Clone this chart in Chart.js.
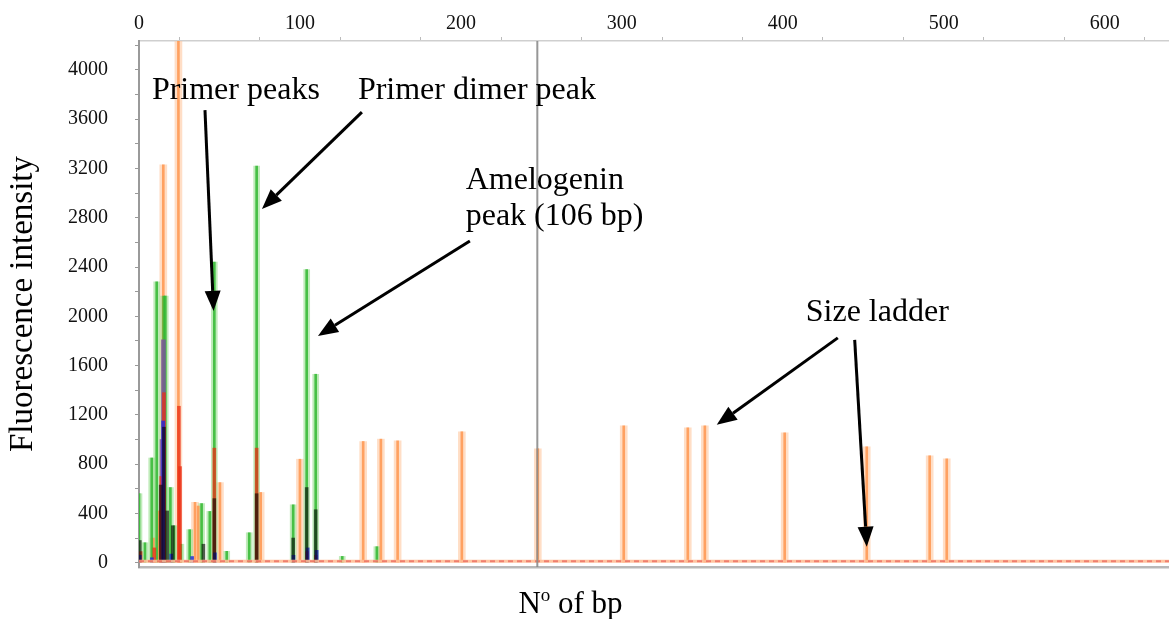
<!DOCTYPE html>
<html>
<head>
<meta charset="utf-8">
<script src="https://cdn.jsdelivr.net/npm/chart.js@4/dist/chart.umd.min.js"></script>
<style>
  html, body { margin: 0; padding: 0; background: #fff; }
  #wrap { width: 1169px; height: 619px; }
</style>
</head>
<body>
<div id="wrap"><canvas id="c" width="1169" height="619"></canvas></div>
<script>
// Axis ranges, minor tick steps and labelled ticks
const sizeRange = [0, 640];            // fragment size, bp
const intensityRange = [-35, 4235];    // fluorescence, RFU
const sizeMinorStep = 50;
const intensityMinorStep = 200;
const sizeLabels = [0, 100, 200, 300, 400, 500, 600];
const intensityLabels = [0, 400, 800, 1200, 1600, 2000, 2400, 2800, 3200, 3600, 4000];

// Size standard dye (orange)
const orangeBp  = [9, 12.5, 15.1, 24.5, 34.8, 36.8, 50.3, 75.6, 100, 139.3, 150.3, 160.7, 200.6, 247.8, 301.2, 341, 351.6, 401.2, 452.2, 491.3, 501.9];
const orangeRfu = [200, 420, 3230, 4400, 490, 460, 650, 570, 840, 984, 1003, 989, 1063, 925, 1111, 1095, 1111, 1054, 941, 868, 843];

// Green dye: primers, primer dimer and amelogenin
const greenBp  = [0, 3.7, 7.9, 11, 15.3, 16.3, 19.5, 21.7, 26, 31.5, 38.9, 44, 46.8, 54.5, 68.5, 73.1, 95.8, 104.2, 109.8, 126.3, 147.8];
const greenRfu = [560, 162, 850, 2280, 2165, 2165, 610, 300, 150, 268, 480, 416, 2440, 92, 243, 3220, 470, 2380, 1530, 51, 130];

// Remaining dye channels
const redBp  = [1, 9.5, 13.8, 15.5, 24.8, 25.5, 46.8, 73.1, 104.5, 110];
const redRfu = [90, 120, 700, 1380, 1270, 780, 930, 930, 90, 60];
const purpleBp  = [14.3, 15.2];
const purpleRfu = [1000, 1810];
const blackBp  = [0.5, 13.5, 15.5, 17.5, 21, 40, 46.8, 73.1, 95.8, 104.2, 109.8];
const blackRfu = [180, 630, 1100, 420, 300, 150, 520, 560, 200, 610, 430];
const blueBp  = [0.5, 8, 15, 20, 33, 47.2, 96, 104.8, 110.4];
const blueRfu = [60, 40, 1150, 70, 50, 80, 60, 120, 100];

// Noise floor and run cursor
const baselineRfu = 12;
const cursorBp = 247.5;

// Callouts, placed in data coordinates (bp, RFU)
const noteTexts = ['Primer peaks', 'Primer dimer peak', 'Amelogenin', 'peak (106 bp)', 'Size ladder'];
const noteBp    = [8, 136, 203, 203, 414.3];
const noteRfu   = [3830, 3830, 3098, 2806, 2028];
const arrowFrom = [[41, 3674], [138.5, 3658], [205.6, 2611], [434.2, 1825], [444.7, 1809]];
const arrowTo   = [[46.3, 2044], [76.4, 2871], [111.2, 1841], [359, 1119], [452.2, 130]];

const SERIF = "'Liberation Serif', 'Times New Roman', serif";

const pts = (xs, ys) => xs.map((x, i) => ({ x, y: ys[i] }));

// Regular tick values from 0 up to the axis maximum
function evenTicks(step, max) {
  const out = [];
  for (let v = 0; v <= max; v += step) out.push({ value: v });
  return out;
}

function peaks(xs, ys, color, width, order) {
  return {
    type: 'bar',
    data: pts(xs, ys),
    backgroundColor: color,
    borderWidth: 0,
    barThickness: width,
    grouped: false,
    order
  };
}

const datasets = [
  peaks(orangeBp, orangeRfu, 'rgba(255,200,160,0.6)', 7, 20),
  peaks(greenBp, greenRfu, 'rgba(150,222,140,0.6)', 6, 19),
  peaks(orangeBp, orangeRfu, 'rgba(255,150,80,0.85)', 2, 18),
  peaks(greenBp, greenRfu, 'rgba(50,185,50,0.85)', 2, 17),
  peaks(purpleBp, purpleRfu, 'rgba(125,80,160,0.8)', 4, 16),
  peaks(redBp, redRfu, 'rgba(235,45,20,0.75)', 3, 15),
  peaks(blueBp, blueRfu, 'rgba(30,40,220,0.8)', 3, 14),
  peaks(blackBp, blackRfu, 'rgba(0,0,0,0.6)', 3, 13),
  {
    type: 'line',
    data: [{ x: sizeRange[0], y: baselineRfu }, { x: sizeRange[1], y: baselineRfu }],
    borderColor: 'rgba(255,190,150,0.9)', borderWidth: 3, pointRadius: 0, order: 12
  },
  {
    type: 'line',
    data: [{ x: sizeRange[0], y: baselineRfu }, { x: sizeRange[1], y: baselineRfu }],
    borderColor: 'rgba(225,70,70,0.55)', borderWidth: 2, borderDash: [5, 4], pointRadius: 0, order: 11
  },
  {
    type: 'line',
    data: [{ x: cursorBp, y: intensityRange[0] }, { x: cursorBp, y: intensityRange[1] }],
    borderColor: 'rgba(140,140,140,0.9)', borderWidth: 2, pointRadius: 0, order: 10
  }
];

// Callout text and arrows
const calloutPlugin = {
  id: 'callouts',
  afterDatasetsDraw(chart) {
    const { ctx, scales: { x, y } } = chart;
    ctx.save();
    ctx.fillStyle = '#000';
    ctx.strokeStyle = '#000';
    ctx.font = '32px ' + SERIF;
    ctx.textAlign = 'left';
    ctx.textBaseline = 'middle';
    noteTexts.forEach((t, i) => {
      ctx.fillText(t, x.getPixelForValue(noteBp[i]), y.getPixelForValue(noteRfu[i]));
    });
    arrowFrom.forEach((f, i) => {
      const x0 = x.getPixelForValue(f[0]), y0 = y.getPixelForValue(f[1]);
      const x1 = x.getPixelForValue(arrowTo[i][0]), y1 = y.getPixelForValue(arrowTo[i][1]);
      const a = Math.atan2(y1 - y0, x1 - x0);
      const headLen = 20, headHalf = 8;
      const bx = x1 - headLen * Math.cos(a), by = y1 - headLen * Math.sin(a);
      ctx.lineWidth = 3;
      ctx.beginPath();
      ctx.moveTo(x0, y0);
      ctx.lineTo(bx, by);
      ctx.stroke();
      ctx.beginPath();
      ctx.moveTo(x1, y1);
      ctx.lineTo(bx + headHalf * Math.sin(a), by - headHalf * Math.cos(a));
      ctx.lineTo(bx - headHalf * Math.sin(a), by + headHalf * Math.cos(a));
      ctx.closePath();
      ctx.fill();
    });
    ctx.restore();
  }
};

// Bottom axis title with superscript "o"
const sizeTitlePlugin = {
  id: 'sizeTitle',
  afterDraw(chart) {
    const { ctx } = chart;
    const big = '31px ' + SERIF, small = '19px ' + SERIF;
    ctx.save();
    ctx.fillStyle = '#000';
    ctx.textBaseline = 'alphabetic';
    ctx.font = big;
    const wN = ctx.measureText('N').width;
    const wRest = ctx.measureText(' of bp').width;
    ctx.font = small;
    const wO = ctx.measureText('o').width;
    const total = wN + wO + wRest;
    const left = chart.width / 2 - 14 - total / 2;
    const base = 613;
    ctx.font = big;
    ctx.fillText('N', left, base);
    ctx.font = small;
    ctx.fillText('o', left + wN, base - 12);
    ctx.font = big;
    ctx.fillText(' of bp', left + wN + wO, base);
    ctx.restore();
  }
};

new Chart(document.getElementById('c'), {
  data: { datasets },
  options: {
    responsive: false,
    animation: false,
    events: [],
    layout: { padding: 0 },
    plugins: { legend: { display: false }, tooltip: { enabled: false } },
    scales: {
      x: {
        type: 'linear',
        position: 'top',
        min: sizeRange[0], max: sizeRange[1],
        offset: false,
        afterFit: s => { s.height = 41; },
        afterBuildTicks: s => { s.ticks = evenTicks(sizeMinorStep, sizeRange[1]); },
        ticks: {
          autoSkip: false,
          maxRotation: 0,
          padding: 1,
          color: '#111',
          font: { family: SERIF, size: 20 },
          callback: v => sizeLabels.includes(v) ? String(v) : ''
        },
        grid: { drawOnChartArea: false, tickLength: 4, color: '#bbb' },
        border: { color: '#cfcfcf', width: 1.5 }
      },
      xb: {
        type: 'linear',
        position: 'bottom',
        min: sizeRange[0], max: sizeRange[1],
        afterFit: s => { s.height = 52; },
        ticks: { display: false },
        grid: { display: false },
        border: { color: '#b8b8b8', width: 2.5 }
      },
      y: {
        type: 'linear',
        position: 'left',
        min: intensityRange[0], max: intensityRange[1],
        afterFit: s => { s.width = 139; },
        afterBuildTicks: s => { s.ticks = evenTicks(intensityMinorStep, intensityRange[1]); },
        ticks: {
          autoSkip: false,
          padding: 27,
          color: '#111',
          font: { family: SERIF, size: 20 },
          callback: v => intensityLabels.includes(v) ? String(v) : ''
        },
        grid: { drawOnChartArea: false, tickLength: 4, color: '#999' },
        border: { color: '#9a9a9a', width: 2 },
        title: {
          display: true,
          text: 'Fluorescence intensity',
          color: '#000',
          font: { family: SERIF, size: 33, lineHeight: 1.2 },
          padding: { top: 4, bottom: 0 }
        }
      }
    }
  },
  plugins: [calloutPlugin, sizeTitlePlugin]
});
</script>
</body>
</html>
